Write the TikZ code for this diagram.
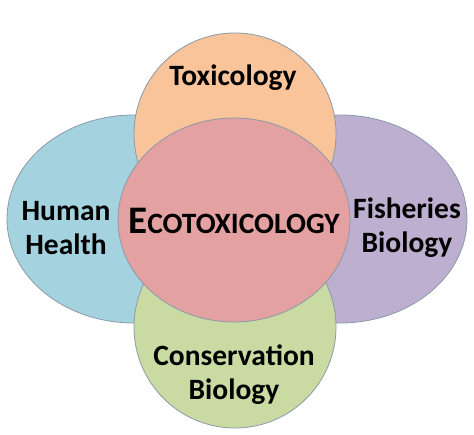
\documentclass[tikz,border=0pt]{standalone}
\usepackage{fontspec}
\setmainfont{Carlito}
\definecolor{cblue}{HTML}{A5D2DF}
\definecolor{cpurple}{HTML}{BDAFCF}
\definecolor{corange}{HTML}{F9C49A}
\definecolor{cgreen}{HTML}{C9DBA3}
\definecolor{cpink}{HTML}{E3A1A1}
\definecolor{cedge}{HTML}{8A9AA8}
\begin{document}
\begin{tikzpicture}[x=1pt,y=-1pt,
  blob/.style={draw=cedge,line width=0.8pt},
  lbl/.style={font=\bfseries\fontsize{29.5}{34}\selectfont,align=center,inner sep=0pt,text=black}]
\useasboundingbox (0,0) rectangle (474,435);
\fill[white] (0,0) rectangle (474,435);
\draw[blob,fill=cblue] (134,219) ellipse [x radius=127,y radius=104];
\draw[blob,fill=cpurple] (340,219) ellipse [x radius=127,y radius=104];
\draw[blob,fill=corange] (235,134) circle [radius=101];
\draw[blob,fill=cgreen] (235,327) circle [radius=101];
\draw[blob,fill=cpink] (234,220) ellipse [x radius=116,y radius=102];
\node[lbl] (hh) at (66,228) {Human\\Health};
\node[lbl] (fb) at (407,228) {Fisheries\\Biology};
\node[lbl] (tx) at (233,78) {Toxicology};
\node[lbl] (cb) at (234,375) {Conservation\\Biology};
\node[inner sep=0pt,text=black] (eco) at (234,221) {\bfseries\fontsize{39}{39}\selectfont E\fontsize{29.5}{29.5}\selectfont COTOXICOLOGY};
\end{tikzpicture}
\end{document}
